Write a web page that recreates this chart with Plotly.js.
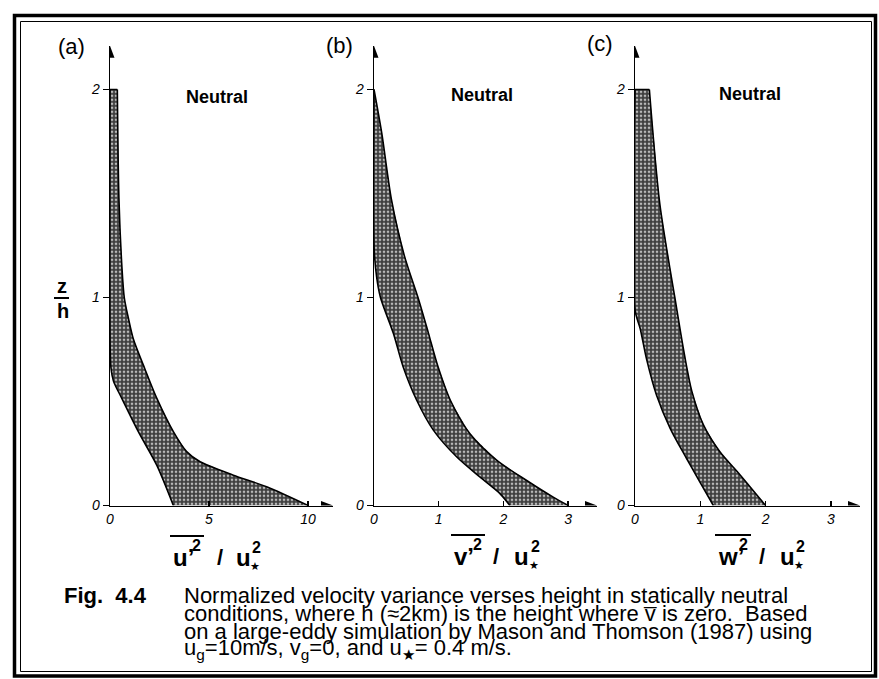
<!DOCTYPE html>
<html>
<head>
<meta charset="utf-8">
<script src="https://cdn.plot.ly/plotly-3.0.1.min.js"></script>
<style>html,body{margin:0;padding:0;background:#fff;}#chart{width:879px;height:679px;}</style>
</head>
<body>
<div id="chart"></div>
<script>
// ---------- data ----------
// (a) u'^2/u*^2 band: right (outer) and left (inner) edges, top to bottom
const aRightX = [0.37, 0.45, 0.60, 0.72, 0.93, 1.18, 1.68, 2.36, 3.20, 3.87, 4.55, 6.23, 7.91, 10.0];
const aRightZ = [2.00, 1.48, 1.15, 1.00, 0.90, 0.80, 0.676, 0.516, 0.355, 0.259, 0.21, 0.146, 0.09, 0.0];
const aLeftX  = [0.0, 0.0, 0.05, 0.17, 0.59, 1.43, 2.36, 3.20];
const aLeftZ  = [2.0, 0.80, 0.66, 0.60, 0.516, 0.355, 0.194, 0.0];
// (b) v'^2/u*^2 band
const bRightX = [0.0, 0.12, 0.27, 0.47, 0.68, 0.84, 0.99, 1.18, 1.48, 1.90, 2.36, 2.77, 3.0];
const bRightZ = [2.0, 1.79, 1.47, 1.20, 1.00, 0.83, 0.667, 0.506, 0.346, 0.217, 0.12, 0.04, 0.0];
const bLeftX  = [0.0, 0.0, 0.04, 0.10, 0.30, 0.45, 0.66, 0.92, 1.28, 1.64, 1.95, 2.10];
const bLeftZ  = [2.0, 1.25, 1.10, 1.00, 0.827, 0.667, 0.506, 0.361, 0.233, 0.136, 0.056, 0.0];
// (c) w'^2/u*^2 band
const cRightX = [0.22, 0.38, 0.61, 0.76, 0.87, 1.05, 1.30, 1.61, 2.0];
const cRightZ = [2.0, 1.45, 1.00, 0.72, 0.55, 0.386, 0.258, 0.147, 0.0];
const cLeftX  = [0.0, 0.0, 0.08, 0.18, 0.33, 0.54, 0.79, 0.99, 1.20];
const cLeftZ  = [2.0, 0.94, 0.85, 0.70, 0.53, 0.37, 0.226, 0.115, 0.0];

const aTicks = [0, 5, 10];
const bTicks = [0, 1, 2, 3];
const cTicks = [0, 1, 2, 3];
const zTicks = [0, 1, 2];

const panelLabels = ['(a)', '(b)', '(c)'];
const caption = [
  'Normalized velocity variance verses height in statically neutral',
  'conditions, where h (\u22482km) is the height where v\u0305 is zero.\u00a0 Based',
  'on a large-eddy simulation by Mason and Thomson (1987) using',
  'u<sub>g</sub>=10m/s, v<sub>g</sub>=0, and u<sub>\u2605</sub>= 0.4 m/s.'
];

// ---------- helpers ----------
const W = 879, H = 679;
const px = x => x / W;
const py = y => 1 - y / H;
const FONT = 'Liberation Sans, Arial, Helvetica, sans-serif';
const pattern = {shape: '.', bgcolor: '#3e3e3e', fgcolor: '#b8b8b8', size: 4, solidity: 0.35, fillmode: 'replace'};

function band(rx, rz, lx, lz, xa, ya) {
  const edge = {color: '#000', width: 1.6, shape: 'spline', smoothing: 0.8};
  return [
    {type: 'scatter', mode: 'lines', x: rx.concat(lx.slice().reverse()), y: rz.concat(lz.slice().reverse()),
      xaxis: xa, yaxis: ya, fill: 'toself', fillcolor: '#4a4a4a', fillpattern: pattern,
      line: {width: 0}, hoverinfo: 'skip', showlegend: false},
    {type: 'scatter', mode: 'lines', x: lx, y: lz, xaxis: xa, yaxis: ya, line: edge, hoverinfo: 'skip', showlegend: false},
    {type: 'scatter', mode: 'lines', x: rx, y: rz, xaxis: xa, yaxis: ya, line: edge, hoverinfo: 'skip', showlegend: false},
    {type: 'scatter', mode: 'lines', x: [lx[0], rx[0]], y: [lz[0], rz[0]], xaxis: xa, yaxis: ya,
      line: {color: '#000', width: 1.5}, hoverinfo: 'skip', showlegend: false}
  ];
}

const data = [].concat(
  band(aRightX, aRightZ, aLeftX, aLeftZ, 'x', 'y'),
  band(bRightX, bRightZ, bLeftX, bLeftZ, 'x2', 'y2'),
  band(cRightX, cRightZ, cLeftX, cLeftZ, 'x3', 'y3')
);

const tickFont = {family: FONT, size: 14, style: 'italic', color: '#000'};
const yDom = [py(505.5), py(45.8)];
const yTop = 2.21;
function xax(dom, range, ticks) {
  return {domain: dom, range: range, tickvals: ticks, ticktext: ticks.map(String),
    ticks: 'inside', ticklen: 5, tickwidth: 1.3, tickcolor: '#000',
    showline: true, linecolor: '#000', linewidth: 1.5, showgrid: false, zeroline: false,
    tickfont: tickFont, fixedrange: true};
}
function yax(anchor) {
  return {domain: yDom, range: [0, yTop], anchor: anchor, tickvals: zTicks, ticktext: zTicks.map(String),
    ticks: 'outside', ticklen: 6, tickwidth: 1.3, tickcolor: '#000',
    showline: true, linecolor: '#000', linewidth: 1.5, showgrid: false, zeroline: false,
    tickfont: tickFont, fixedrange: true};
}
const xaEnd = [(333 - 110) / 19.8, (597 - 374) / 64.7, (860 - 635) / 65.3];

const annotations = [];
const shapes = [];
function txt(t, x, y, size, opts) {
  annotations.push(Object.assign({text: t, xref: 'paper', yref: 'paper', x: px(x), y: py(y),
    showarrow: false, xanchor: 'center', yanchor: 'middle',
    font: {family: FONT, size: size, color: '#000'}}, opts || {}));
}
// arrow heads on the axes
[['x', 'y'], ['x2', 'y2'], ['x3', 'y3']].forEach((p, i) => {
  shapes.push({type: 'path', xref: p[0], yref: p[1], xsizemode: 'pixel', ysizemode: 'pixel',
    xanchor: xaEnd[i], yanchor: 0, path: 'M0,0 L-12,4.5 L-12,-4.5 Z', fillcolor: '#000', line: {width: 0}});
  shapes.push({type: 'path', xref: p[0], yref: p[1], xsizemode: 'pixel', ysizemode: 'pixel',
    xanchor: 0, yanchor: yTop, path: 'M0,0 L-4.5,-12 L4.5,-12 Z', fillcolor: '#000', line: {width: 0}});
});
// panel labels and "Neutral"
txt(panelLabels[0], 71, 47, 22);
txt(panelLabels[1], 339, 46, 22);
txt(panelLabels[2], 600, 44, 22);
txt('<b>Neutral</b>', 217, 97, 18);
txt('<b>Neutral</b>', 482, 95, 18);
txt('<b>Neutral</b>', 750, 94, 18);
// z/h
txt('<b>z</b>', 62, 286, 20);
txt('<b>h</b>', 63, 311, 20);
shapes.push({type: 'line', xref: 'paper', yref: 'paper', x0: px(54), x1: px(69), y0: py(298), y1: py(298), line: {color: '#000', width: 2}});
// axis titles
function xtitle(sym, x0, xEndSup, xSlash, xU, xSup2, yBase) {
  txt('<b>' + sym + '\u2019</b>', x0, yBase, 24, {xanchor: 'left'});
  txt('<b>2</b>', xEndSup, yBase - 12, 16, {xanchor: 'right'});
  txt('<b>/</b>', xSlash, yBase, 22);
  txt('<b>u</b>', xU, yBase, 24, {xanchor: 'left'});
  txt('<b>2</b>', xSup2, yBase - 10, 16, {xanchor: 'left'});
  txt('\u2605', xSup2 + 5, yBase + 9, 11);
  shapes.push({type: 'line', xref: 'paper', yref: 'paper', x0: px(x0 - 1), x1: px(xEndSup + 1), y0: py(yBase - 21), y1: py(yBase - 21), line: {color: '#000', width: 2}});
}
xtitle('u', 171, 203, 220, 234, 250, 557);
xtitle('v', 452, 484, 496, 512, 529, 556);
xtitle('w', 716, 750, 762, 778, 794, 556);
// caption
txt('<b>Fig.\u00a0 4.4</b>', 62, 595, 22, {xanchor: 'left'});
[595, 613, 631, 649].forEach((y, i) => txt(caption[i], 182, y, 22, {xanchor: 'left'}));
// frame
shapes.push({type: 'rect', xref: 'paper', yref: 'paper', x0: px(14.5), x1: px(875.5), y0: py(15.5), y1: py(676), line: {color: '#000', width: 3.5}});
shapes.push({type: 'rect', xref: 'paper', yref: 'paper', x0: px(20.5), x1: px(871.5), y0: py(21.5), y1: py(671.5), line: {color: '#000', width: 1}});

const layout = {
  width: W, height: H, margin: {l: 0, r: 0, t: 0, b: 0},
  paper_bgcolor: '#fff', plot_bgcolor: 'rgba(0,0,0,0)', showlegend: false,
  font: {family: FONT, color: '#000'},
  xaxis: Object.assign(xax([px(110), px(333)], [0, xaEnd[0]], aTicks), {anchor: 'y'}),
  yaxis: yax('x'),
  xaxis2: Object.assign(xax([px(374), px(597)], [0, xaEnd[1]], bTicks), {anchor: 'y2'}),
  yaxis2: yax('x2'),
  xaxis3: Object.assign(xax([px(635), px(860)], [0, xaEnd[2]], cTicks), {anchor: 'y3'}),
  yaxis3: yax('x3'),
  annotations: annotations, shapes: shapes
};
Plotly.newPlot('chart', data, layout, {staticPlot: true, displayModeBar: false});
</script>
</body>
</html>
